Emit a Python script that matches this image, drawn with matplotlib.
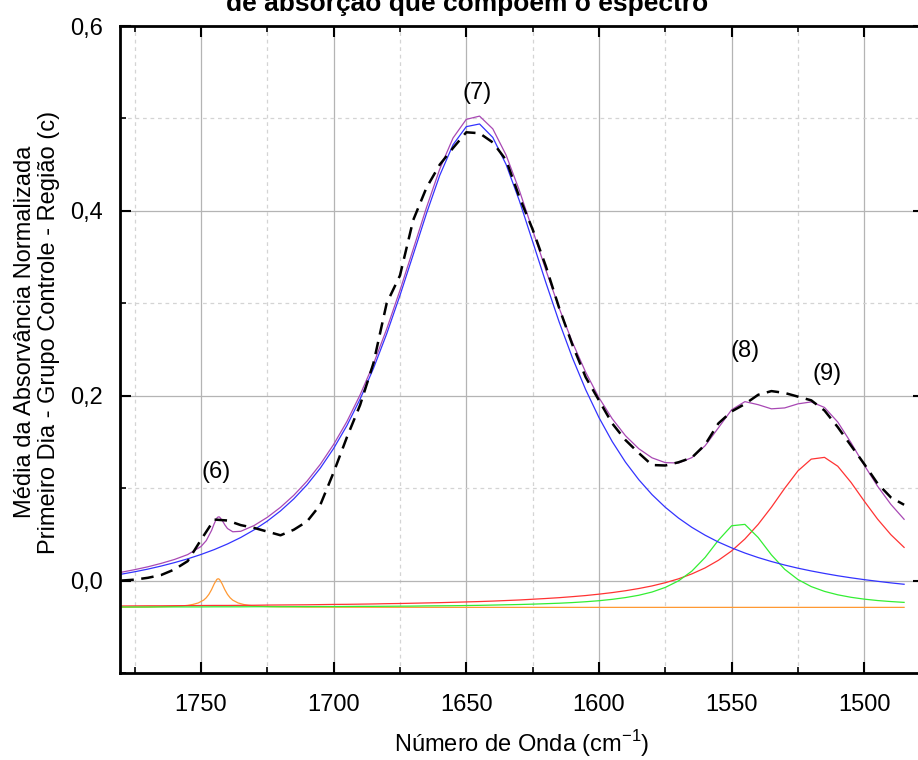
import numpy as np
import matplotlib.pyplot as plt
from matplotlib.ticker import MultipleLocator

plt.rcParams['font.family'] = ['Liberation Sans', 'DejaVu Sans']
plt.rcParams['mathtext.fontset'] = 'custom'
plt.rcParams['mathtext.rm'] = 'Liberation Sans'

# wavenumber grid (cm-1)
wn = [1780, 1775, 1770, 1765, 1760, 1755, 1750, 1745, 1740, 1735,
      1730, 1725, 1720, 1715, 1710, 1705, 1700, 1695, 1690, 1685,
      1680, 1675, 1670, 1665, 1660, 1655, 1650, 1645, 1640, 1635,
      1630, 1625, 1620, 1615, 1610, 1605, 1600, 1595, 1590, 1585,
      1580, 1575, 1570, 1565, 1560, 1555, 1550, 1545, 1540, 1535,
      1530, 1525, 1520, 1515, 1510, 1505, 1500, 1495, 1490, 1485]

# measured spectrum (dashed)
espectro = [0.000, 0.001, 0.003, 0.006, 0.012, 0.021, 0.044, 0.066, 0.065, 0.060,
            0.057, 0.053, 0.049, 0.055, 0.064, 0.082, 0.117, 0.155, 0.190, 0.235,
            0.300, 0.330, 0.390, 0.425, 0.450, 0.468, 0.485, 0.484, 0.474, 0.455,
            0.415, 0.380, 0.340, 0.295, 0.255, 0.220, 0.195, 0.170, 0.152, 0.138,
            0.125, 0.1245, 0.128, 0.133, 0.147, 0.170, 0.183, 0.191, 0.201, 0.205,
            0.203, 0.199, 0.195, 0.184, 0.166, 0.146, 0.126, 0.105, 0.090, 0.082]

# band (7) - blue
banda7 = [0.0069, 0.0095, 0.0124, 0.0157, 0.0194, 0.0235, 0.0282, 0.0335, 0.0396, 0.0466,
          0.0548, 0.0643, 0.0754, 0.0884, 0.1037, 0.1217, 0.1429, 0.1676, 0.1964, 0.2294,
          0.2669, 0.3084, 0.3526, 0.3972, 0.4384, 0.4715, 0.4911, 0.4940, 0.4794, 0.4502,
          0.4110, 0.3669, 0.3223, 0.2798, 0.2410, 0.2065, 0.1764, 0.1504, 0.1281, 0.1092,
          0.0930, 0.0793, 0.0676, 0.0576, 0.0491, 0.0417, 0.0354, 0.0298, 0.0249, 0.0206,
          0.0168, 0.0134, 0.0104, 0.0077, 0.0052, 0.0030, 0.0010, -0.0008, -0.0025, -0.0040]

# band (8) - green
banda8 = [-0.0286, -0.0286, -0.0286, -0.0285, -0.0285, -0.0285, -0.0285, -0.0284, -0.0284, -0.0284,
          -0.0283, -0.0283, -0.0283, -0.0282, -0.0282, -0.0281, -0.0281, -0.0280, -0.0279, -0.0279,
          -0.0278, -0.0277, -0.0276, -0.0274, -0.0273, -0.0272, -0.0270, -0.0268, -0.0265, -0.0262,
          -0.0259, -0.0255, -0.0250, -0.0245, -0.0238, -0.0229, -0.0218, -0.0203, -0.0184, -0.0159,
          -0.0124, -0.0074, -0.0003, 0.0102, 0.0250, 0.0436, 0.0593, 0.0608, 0.0466, 0.0278,
          0.0122, 0.0011, -0.0065, -0.0117, -0.0154, -0.0181, -0.0201, -0.0216, -0.0227, -0.0236]

# band (9) - red
banda9 = [-0.0275, -0.0274, -0.0273, -0.0273, -0.0272, -0.0271, -0.0270, -0.0269, -0.0269, -0.0268,
          -0.0267, -0.0265, -0.0264, -0.0263, -0.0262, -0.0260, -0.0258, -0.0257, -0.0255, -0.0253,
          -0.0250, -0.0248, -0.0245, -0.0242, -0.0239, -0.0235, -0.0231, -0.0227, -0.0222, -0.0216,
          -0.0210, -0.0202, -0.0194, -0.0185, -0.0174, -0.0162, -0.0147, -0.0130, -0.0110, -0.0086,
          -0.0058, -0.0023, 0.0019, 0.0072, 0.0137, 0.0219, 0.0321, 0.0450, 0.0608, 0.0794,
          0.0998, 0.1187, 0.1314, 0.1333, 0.1237, 0.1062, 0.0859, 0.0665, 0.0497, 0.0359]

# band (6) - orange, finer grid around the narrow peak
wn6 = [1780, 1770, 1765, 1760, 1757, 1755, 1753, 1751, 1749, 1748,
       1747, 1746, 1745, 1744, 1743.5, 1743, 1742, 1741, 1740, 1739,
       1738, 1736, 1734, 1732, 1730, 1727, 1724, 1720, 1710, 1700,
       1680, 1650, 1600, 1550, 1500, 1485]
banda6 = [-0.0288, -0.0286, -0.0283, -0.0279, -0.0274, -0.0268, -0.0258, -0.0242, -0.0212, -0.0186,
          -0.0149, -0.0098, -0.0036, 0.0013, 0.0020, 0.0013, -0.0036, -0.0098, -0.0149, -0.0186,
          -0.0212, -0.0242, -0.0258, -0.0268, -0.0274, -0.0279, -0.0282, -0.0284, -0.0287, -0.0288,
          -0.0289, -0.0290, -0.0290, -0.0290, -0.0290, -0.0290]

# cumulative fit - purple
wn_soma = [1780, 1775, 1770, 1765, 1760, 1755, 1750, 1748, 1746, 1745,
           1744, 1743.5, 1743, 1742, 1741, 1740, 1738, 1735, 1730, 1725,
           1720, 1715, 1710, 1705, 1700, 1695, 1690, 1685, 1680, 1675,
           1670, 1665, 1660, 1655, 1650, 1645, 1640, 1635, 1630, 1625,
           1620, 1615, 1610, 1605, 1600, 1595, 1590, 1585, 1580, 1575,
           1570, 1565, 1560, 1555, 1550, 1545, 1540, 1535, 1530, 1525,
           1520, 1515, 1510, 1505, 1500, 1495, 1490, 1485]
soma = [0.0090, 0.0118, 0.0149, 0.0186, 0.0228, 0.0281, 0.0368, 0.0432, 0.0542, 0.0615,
        0.0676, 0.0689, 0.0688, 0.0652, 0.0603, 0.0563, 0.0528, 0.0533, 0.0595, 0.0684,
        0.0793, 0.0923, 0.1076, 0.1258, 0.1472, 0.1720, 0.2010, 0.2342, 0.2721, 0.3139,
        0.3585, 0.4036, 0.4452, 0.4788, 0.4990, 0.5025, 0.4887, 0.4604, 0.4221, 0.3792,
        0.3359, 0.2948, 0.2578, 0.2254, 0.1979, 0.1751, 0.1567, 0.1427, 0.1328, 0.1276,
        0.1272, 0.1330, 0.1458, 0.1652, 0.1848, 0.1936, 0.1903, 0.1858, 0.1868, 0.1912,
        0.1933, 0.1873, 0.1715, 0.1491, 0.1248, 0.1021, 0.0825, 0.0663]

# band labels and where they sit
rotulos = ['(6)', '(7)', '(8)', '(9)']
rot_x = [1744.1, 1645.9, 1544.9, 1513.9]
rot_y = [0.118, 0.528, 0.248, 0.224]

yticks = [0.0, 0.2, 0.4, 0.6]
yticklabels = ['0,0', '0,2', '0,4', '0,6']
xticks = [1750, 1700, 1650, 1600, 1550, 1500]

fig = plt.figure(figsize=(9.18, 7.6), dpi=100)
ax = fig.add_axes([120/918, 1 - 673/760, 804/918, 647/760])

ax.plot(wn6, banda6, color='#ff9933', lw=0.9)
ax.plot(wn, banda9, color='#ff3333', lw=0.9)
ax.plot(wn, banda8, color='#33ee33', lw=0.9)
ax.plot(wn, banda7, color='#3333ff', lw=0.9)
ax.plot(wn_soma, soma, color='#a848b4', lw=0.9)
ax.plot(wn, espectro, color='black', lw=1.8, ls=(0, (5, 3)))

for t, x, y in zip(rotulos, rot_x, rot_y):
    ax.text(x, y, t, fontsize=17, ha='center', va='center')

ax.set_xlim(1780.5, 1477.5)
ax.set_ylim(-0.1, 0.6)
ax.set_xticks(xticks)
ax.set_yticks(yticks)
ax.set_yticklabels(yticklabels)
ax.xaxis.set_minor_locator(MultipleLocator(25))
ax.yaxis.set_minor_locator(MultipleLocator(0.1))

ax.tick_params(which='both', direction='in', top=True, right=True, labelsize=17)
ax.tick_params(which='major', length=8, width=1.5, pad=12)
ax.tick_params(axis='x', which='major', pad=15)
ax.tick_params(which='minor', length=4, width=1.2)

ax.grid(which='major', color='#b4b4b4', lw=0.9, ls='-')
ax.grid(which='minor', color='#d4d4d4', lw=0.9, ls=(0, (3, 3)))
ax.set_axisbelow(True)

for s in ax.spines.values():
    s.set_linewidth(2)

ax.set_xlabel('Número de Onda (cm$^{-1}$)', fontsize=17, labelpad=9)
fig.text(37/918, 1 - 332/760,
         'Média da Absorvância Normalizada\nPrimeiro Dia - Grupo Controle - Região (c)',
         rotation=90, ha='center', va='center', fontsize=17, linespacing=1.15)

fig.text(467/918, 1 - 11/760, 'de absorção que compõem o espectro',
         fontsize=19, fontweight='bold', ha='center', va='baseline')

plt.savefig('out.png', dpi=100)
